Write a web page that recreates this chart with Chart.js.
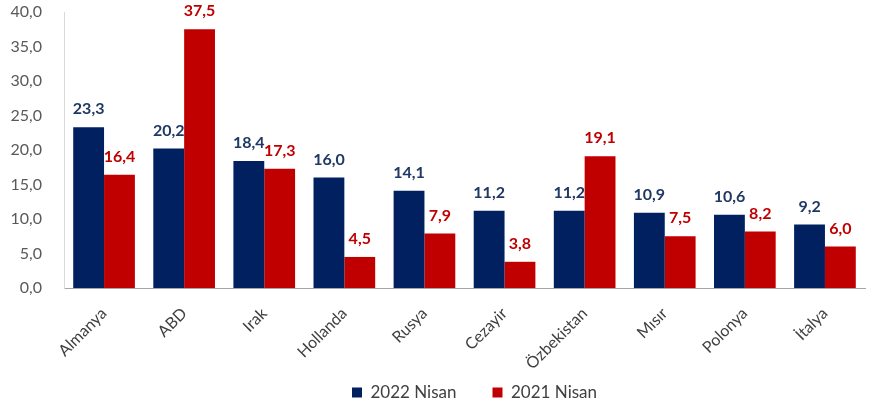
<!DOCTYPE html>
<html>
<head>
<meta charset="utf-8">
<script src="https://cdn.jsdelivr.net/npm/chart.js@4.4.1/dist/chart.umd.min.js"></script>
<style>
  html, body { margin: 0; padding: 0; background: #fff; }
  #wrap { width: 869px; height: 409px; position: relative; }
</style>
</head>
<body>
<div id="wrap"><canvas id="chart"></canvas></div>
<script>
// Country categories and the two April series
const countries = ['Almanya', 'ABD', 'Irak', 'Hollanda', 'Rusya', 'Cezayir', 'Özbekistan', 'Mısır', 'Polonya', 'İtalya'];
const nisan2022 = [23.3, 20.2, 18.4, 16.0, 14.1, 11.2, 11.2, 10.9, 10.6, 9.2];
const nisan2021 = [16.4, 37.5, 17.3, 4.5, 7.9, 3.8, 19.1, 7.5, 8.2, 6.0];
const seriesNames = ['2022 Nisan', '2021 Nisan'];

const BLUE = '#002060';
const RED = '#C00000';
const FONT = "Lato, 'Open Sans', sans-serif";

const fmt = v => v.toFixed(1).replace('.', ',');

// simple value labels above each bar
const barLabels = {
  id: 'barLabels',
  afterDatasetsDraw(chart) {
    const ctx = chart.ctx;
    ctx.save();
    ctx.font = 'bold 16px ' + FONT;
    ctx.textAlign = 'center';
    ctx.textBaseline = 'bottom';
    chart.data.datasets.forEach((ds, i) => {
      const meta = chart.getDatasetMeta(i);
      ctx.fillStyle = i === 0 ? '#1F3864' : RED;
      meta.data.forEach((bar, j) => {
        ctx.fillText(fmt(ds.data[j]), bar.x, bar.y - 10);
      });
    });
    ctx.restore();
  }
};

// legend: small box in the layout, wide item gap, then moved down/right
const legendPlace = {
  id: 'legendPlace',
  beforeInit(chart) {
    const fit = chart.legend.fit;
    chart.legend.fit = function() {
      fit.bind(chart.legend)();
      this.height = 37;
    };
  },
  afterLayout(chart) {
    const lg = chart.legend;
    lg.top = 348;
    lg.bottom = 409;
    lg.height = lg.bottom - lg.top;
    lg.left += 42;
    lg.right += 42;
  }
};

new Chart(document.getElementById('chart'), {
  type: 'bar',
  data: {
    labels: countries,
    datasets: [
      { label: seriesNames[0], data: nisan2022, backgroundColor: BLUE },
      { label: seriesNames[1], data: nisan2021, backgroundColor: RED }
    ]
  },
  options: {
    responsive: true,
    maintainAspectRatio: false,
    animation: false,
    layout: { padding: { top: 12, right: 4, left: 0, bottom: 4 } },
    datasets: { bar: { categoryPercentage: 0.77, barPercentage: 1.0 } },
    plugins: {
      legend: {
        position: 'bottom',
        labels: {
          boxWidth: 10, boxHeight: 10, padding: 36,
          color: '#404040',
          font: { family: FONT, size: 17 }
        }
      },
      tooltip: { enabled: false }
    },
    scales: {
      x: {
        grid: { display: false },
        border: { color: '#a6a6a6' },
        ticks: {
          color: '#404040',
          font: { family: FONT, size: 16 },
          minRotation: 45, maxRotation: 45,
          padding: 8
        },
        afterFit(scale) { scale.height = 80; }
      },
      y: {
        min: 0, max: 40,
        grid: { display: false },
        border: { color: '#d9d9d9' },
        ticks: {
          stepSize: 5,
          color: '#595959',
          font: { family: FONT, size: 16 },
          padding: 14,
          callback: v => fmt(v)
        },
        afterFit(scale) { scale.width = 64; scale.paddingTop = 0; }
      }
    }
  },
  plugins: [barLabels, legendPlace]
});
</script>
</body>
</html>
